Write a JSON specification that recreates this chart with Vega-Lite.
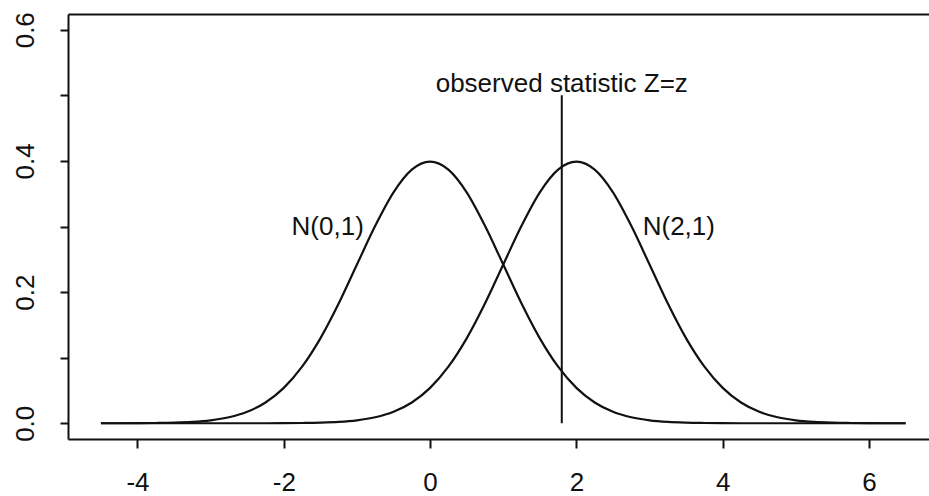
{
  "$schema": "https://vega.github.io/schema/vega-lite/v6.json",
  "width": 861,
  "height": 425,
  "autosize": {"type": "none"},
  "padding": {"left": 68, "top": 14, "right": 0, "bottom": 57},
  "background": "white",
  "config": {
    "view": {"stroke": null},
    "font": "Liberation Sans",
    "axis": {
      "grid": false,
      "domainColor": "#111111",
      "domainWidth": 2,
      "tickColor": "#111111",
      "tickWidth": 2,
      "labelColor": "#111111",
      "labelFont": "Liberation Sans",
      "labelFontSize": 26,
      "title": null
    }
  },
  "resolve": {"axis": {"x": "independent", "y": "independent"}},
  "layer": [
    {
      "data": {
        "values": [
          {"x": -4.5, "n0": 0.0, "n2": 0.0},
          {"x": -4.25, "n0": 0.0, "n2": 0.0},
          {"x": -4.0, "n0": 0.0001, "n2": 0.0},
          {"x": -3.75, "n0": 0.0004, "n2": 0.0},
          {"x": -3.5, "n0": 0.0009, "n2": 0.0},
          {"x": -3.25, "n0": 0.002, "n2": 0.0},
          {"x": -3.0, "n0": 0.0044, "n2": 0.0},
          {"x": -2.75, "n0": 0.0091, "n2": 0.0},
          {"x": -2.5, "n0": 0.0175, "n2": 0.0},
          {"x": -2.25, "n0": 0.0317, "n2": 0.0},
          {"x": -2.0, "n0": 0.054, "n2": 0.0001},
          {"x": -1.75, "n0": 0.0863, "n2": 0.0004},
          {"x": -1.5, "n0": 0.1295, "n2": 0.0009},
          {"x": -1.25, "n0": 0.1826, "n2": 0.002},
          {"x": -1.0, "n0": 0.242, "n2": 0.0044},
          {"x": -0.75, "n0": 0.3011, "n2": 0.0091},
          {"x": -0.5, "n0": 0.3521, "n2": 0.0175},
          {"x": -0.25, "n0": 0.3867, "n2": 0.0317},
          {"x": 0.0, "n0": 0.3989, "n2": 0.054},
          {"x": 0.25, "n0": 0.3867, "n2": 0.0863},
          {"x": 0.5, "n0": 0.3521, "n2": 0.1295},
          {"x": 0.75, "n0": 0.3011, "n2": 0.1826},
          {"x": 1.0, "n0": 0.242, "n2": 0.242},
          {"x": 1.25, "n0": 0.1826, "n2": 0.3011},
          {"x": 1.5, "n0": 0.1295, "n2": 0.3521},
          {"x": 1.75, "n0": 0.0863, "n2": 0.3867},
          {"x": 2.0, "n0": 0.054, "n2": 0.3989},
          {"x": 2.25, "n0": 0.0317, "n2": 0.3867},
          {"x": 2.5, "n0": 0.0175, "n2": 0.3521},
          {"x": 2.75, "n0": 0.0091, "n2": 0.3011},
          {"x": 3.0, "n0": 0.0044, "n2": 0.242},
          {"x": 3.25, "n0": 0.002, "n2": 0.1826},
          {"x": 3.5, "n0": 0.0009, "n2": 0.1295},
          {"x": 3.75, "n0": 0.0004, "n2": 0.0863},
          {"x": 4.0, "n0": 0.0001, "n2": 0.054},
          {"x": 4.25, "n0": 0.0, "n2": 0.0317},
          {"x": 4.5, "n0": 0.0, "n2": 0.0175},
          {"x": 4.75, "n0": 0.0, "n2": 0.0091},
          {"x": 5.0, "n0": 0.0, "n2": 0.0044},
          {"x": 5.25, "n0": 0.0, "n2": 0.002},
          {"x": 5.5, "n0": 0.0, "n2": 0.0009},
          {"x": 5.75, "n0": 0.0, "n2": 0.0004},
          {"x": 6.0, "n0": 0.0, "n2": 0.0001},
          {"x": 6.25, "n0": 0.0, "n2": 0.0},
          {"x": 6.5, "n0": 0.0, "n2": 0.0}
        ]
      },
      "transform": [{"fold": ["n0", "n2"], "as": ["dist", "dens"]}],
      "mark": {"type": "line", "color": "#111111", "strokeWidth": 2.2, "interpolate": "monotone"},
      "encoding": {
        "x": {
          "field": "x",
          "type": "quantitative",
          "scale": {"domain": [-4.95, 6.82], "nice": false, "zero": false},
          "axis": {
            "orient": "bottom",
            "values": [-4, -2, 0, 2, 4, 6],
            "tickSize": 9,
            "labelPadding": 42,
            "labelBaseline": "alphabetic",
            "labelAlign": "center",
            "labelFlush": false,
            "labelOverlap": false,
            "labelExpr": "'' + datum.value"
          }
        },
        "y": {
          "field": "dens",
          "type": "quantitative",
          "scale": {"domain": [-0.024, 0.624], "nice": false, "zero": false},
          "axis": {
            "orient": "left",
            "values": [0, 0.1, 0.2, 0.3, 0.4, 0.5, 0.6],
            "tickSize": 8,
            "labelAngle": -90,
            "labelAlign": "center",
            "labelBaseline": "alphabetic",
            "labelPadding": 27,
            "labelFlush": false,
            "labelOverlap": false,
            "labelExpr": "round(datum.value * 10) % 2 == 0 ? format(datum.value, '.1f') : ''"
          }
        },
        "detail": {"field": "dist"}
      }
    },
    {
      "data": {"values": [{"z": 1.8, "lo": 0, "hi": 0.5}]},
      "mark": {"type": "rule", "color": "#111111", "strokeWidth": 2},
      "encoding": {
        "x": {"field": "z", "type": "quantitative", "axis": null},
        "y": {"field": "lo", "type": "quantitative", "axis": null},
        "y2": {"field": "hi"}
      }
    },
    {
      "data": {
        "values": [
          {"tx": -1.4, "ty": 0.287, "label": "N(0,1)"},
          {"tx": 3.4, "ty": 0.287, "label": "N(2,1)"},
          {"tx": 1.8, "ty": 0.505, "label": "observed statistic Z=z"}
        ]
      },
      "mark": {"type": "text", "font": "Liberation Sans", "fontSize": 26, "align": "center", "baseline": "alphabetic", "color": "#111111"},
      "encoding": {
        "x": {
          "field": "tx",
          "type": "quantitative",
          "axis": {"orient": "top", "ticks": false, "labels": false, "domain": true}
        },
        "y": {"field": "ty", "type": "quantitative", "axis": null},
        "text": {"field": "label"}
      }
    }
  ]
}
